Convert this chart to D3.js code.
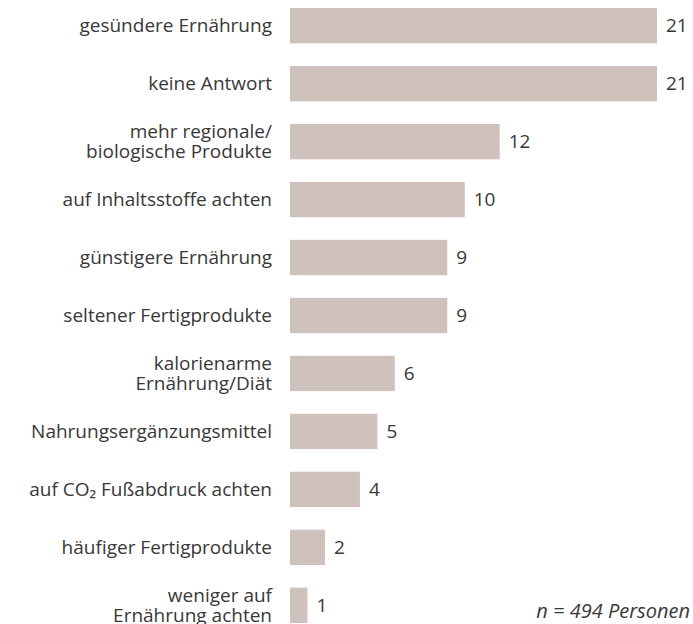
<!DOCTYPE html>
<html>
<head>
<meta charset="utf-8">
<script src="https://cdn.jsdelivr.net/npm/d3@7"></script>
<style>
  html, body { margin: 0; padding: 0; background: #fff; }
  svg { display: block; }
</style>
</head>
<body>
<svg id="chart"></svg>
<script>
const categories = [
  ['gesündere Ernährung'],
  ['keine Antwort'],
  ['mehr regionale/', 'biologische Produkte'],
  ['auf Inhaltsstoffe achten'],
  ['günstigere Ernährung'],
  ['seltener Fertigprodukte'],
  ['kalorienarme', 'Ernährung/Diät'],
  ['Nahrungsergänzungsmittel'],
  ['auf CO₂ Fußabdruck achten'],
  ['häufiger Fertigprodukte'],
  ['weniger auf', 'Ernährung achten']
];
const values = [21, 21, 12, 10, 9, 9, 6, 5, 4, 2, 1];
const note = 'n = 494 Personen';

const width = 693;
const height = 624;
const margin = { top: 8, right: 36, bottom: 1, left: 290 };
const font = '"Open Sans", "Noto Sans", sans-serif';
const fs = '19px';

const svg = d3.select('#chart')
  .attr('width', width)
  .attr('height', height);

const data = categories.map((c, i) => ({ id: i, label: c, value: values[i] }));

const x = d3.scaleLinear()
  .domain([0, 21])
  .range([margin.left, 657]);

const y = d3.scaleBand()
  .domain(data.map(d => d.id))
  .range([margin.top, height - margin.bottom])
  .paddingInner(0.39)
  .paddingOuter(0);

svg.selectAll('.bar')
  .data(data)
  .join('rect')
  .attr('class', 'bar')
  .attr('x', x(0))
  .attr('y', d => y(d.id))
  .attr('width', d => x(d.value) - x(0))
  .attr('height', y.bandwidth())
  .attr('fill', '#cfc2bc');

// value labels next to the bar ends
svg.selectAll('.val')
  .data(data)
  .join('text')
  .attr('class', 'val')
  .attr('x', d => x(d.value) + 9)
  .attr('y', d => y(d.id) + y.bandwidth() / 2)
  .attr('dy', '0.35em')
  .attr('font-family', font)
  .attr('font-size', fs)
  .attr('fill', '#383838')
  .text(d => d.value);

// category labels, one or two lines
const lab = svg.selectAll('.cat')
  .data(data)
  .join('text')
  .attr('class', 'cat')
  .attr('text-anchor', 'end')
  .attr('font-family', font)
  .attr('font-size', fs)
  .attr('fill', '#383838');

lab.each(function(d) {
  const t = d3.select(this);
  const cy = y(d.id) + y.bandwidth() / 2;
  const lh = 20;
  const start = cy - (d.label.length - 1) * lh / 2;
  d.label.forEach((line, i) => {
    t.append('tspan')
      .attr('x', 272)
      .attr('y', start + i * lh)
      .attr('dy', '0.35em')
      .text(line);
  });
});

svg.append('text')
  .attr('x', 690)
  .attr('y', 618)
  .attr('text-anchor', 'end')
  .attr('font-family', font)
  .attr('font-size', '20px')
  .attr('font-style', 'italic')
  .attr('fill', '#383838')
  .text(note);
</script>
</body>
</html>
